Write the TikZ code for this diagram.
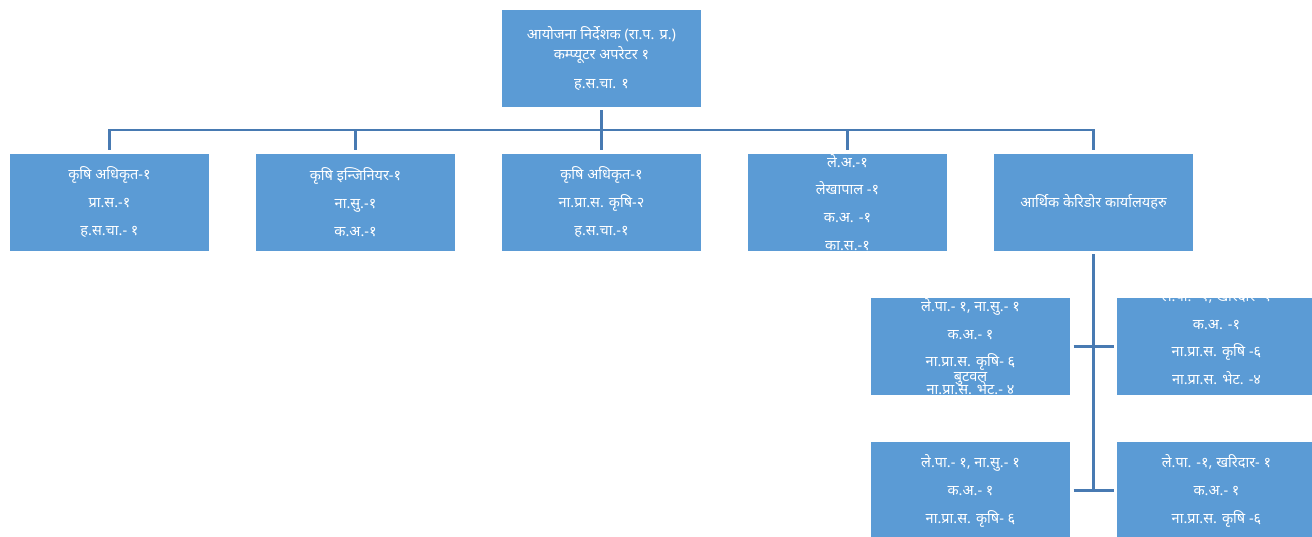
\documentclass[tikz,border=0pt]{standalone}
\usepackage{fontspec}
\newfontfamily\devfont[Script=Devanagari]{Noto Sans}
\usepackage{tikz}
\usetikzlibrary{positioning}
\definecolor{boxblue}{RGB}{91,155,213}
\definecolor{lineblue}{RGB}{72,122,178}
\tikzstyle{block} = [draw=white, line width=1.2pt, outer sep=0pt, fill=boxblue, rectangle, minimum height=98pt, minimum width=200pt, text=white, align=center, font=\devfont\fontsize{14.5}{28}\selectfont]
\tikzstyle{topblock} = [block, font=\devfont\fontsize{14.5}{20}\selectfont]
\tikzstyle{txt} = [text=white, align=center, font=\devfont\fontsize{14.5}{27.7}\selectfont]
\tikzstyle{link} = [draw=lineblue, line width=2.6pt, shorten >=3pt]

\begin{document}
\begin{tikzpicture}[x=1pt, y=-1pt]
    \useasboundingbox (0,0) rectangle (1312,537);
    % the office head on top
    \node [topblock] (top) at (601.5,58.5) {आयोजना निर्देशक (रा.प. प्र.)\\ कम्प्यूटर अपरेटर १\\[9pt] ह.स.चा. १};
    % second row of sections
    \node [block, below=46pt of top] (b3) {कृषि अधिकृत-१\\ ना.प्रा.स. कृषि-२\\ ह.स.चा.-१};
    \node [block, left=46pt of b3] (b2) {कृषि इन्जिनियर-१\\ ना.सु.-१\\ क.अ.-१};
    \node [block, left=46pt of b2] (b1) {कृषि अधिकृत-१\\ प्रा.स.-१\\ ह.स.चा.- १};
    \node [block, right=46pt of b3] (b4) {};
    \node [block, right=46pt of b4] (b5) {आर्थिक केरिडोर कार्यालयहरु};
    \node [txt] (b4text) at (b4.center) {ले.अ.-१\\ लेखापाल -१\\ क.अ. -१\\ का.स.-१};
    % corridor offices
    \node [block, below=46pt of b5, xshift=-123pt] (c1) {};
    \node [block, right=46pt of c1] (c2) {};
    \node [block, below=46pt of c1] (c3) {ले.पा.- १, ना.सु.- १\\ क.अ.- १\\ ना.प्रा.स. कृषि- ६};
    \node [block, right=46pt of c3] (c4) {ले.पा. -१, खरिदार- १\\ क.अ.- १\\ ना.प्रा.स. कृषि -६};
    \node [txt] (c1text) at (c1.center) {ले.पा.- १, ना.सु.- १\\ क.अ.- १\\ ना.प्रा.स. कृषि- ६\\ ना.प्रा.स. भेट.- ४};
    \node [txt] (c1place) at ([yshift=-32.5pt]c1.center) {बुटवल};
    \node [txt] (c2text) at ([yshift=10pt]c2.center) {ले.पा. -१, खरिदार- १\\ क.अ. -१\\ ना.प्रा.स. कृषि -६\\ ना.प्रा.स. भेट. -४};

    \coordinate (bar) at (601.5,130);

    \draw[link, shorten <=3pt] (top) -- (b3);
    \draw[link] (bar) -| (b1.north);
    \draw[link] (bar) -| (b5.north);
    \draw[link] (b2.north |- bar) -- (b2.north);
    \draw[link] (b4.north |- bar) -- (b4.north);
    \draw[link] (b5.south |- c3.east) -- (b5.south);
    \draw[link, shorten <=3pt] (c1) -- (c2);
    \draw[link, shorten <=3pt] (c3) -- (c4);
\end{tikzpicture}
\end{document}
